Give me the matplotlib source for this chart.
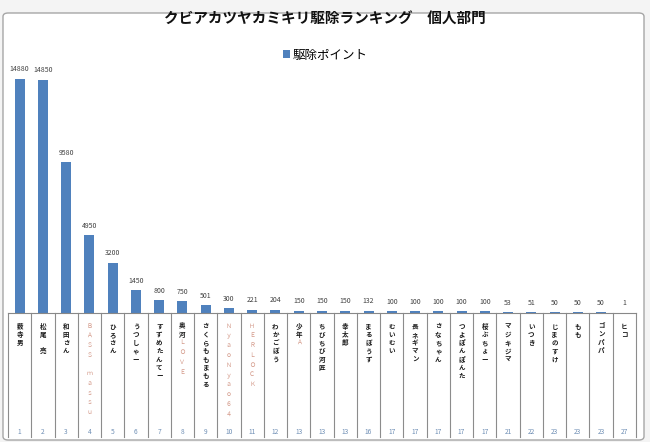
import matplotlib
matplotlib.use("Agg")
import matplotlib.pyplot as plt
from matplotlib.patches import FancyBboxPatch, Rectangle, Patch

plt.rcParams['font.family'] = ['Noto Sans CJK JP', 'DejaVu Sans']

# data
names = ["薮寺男", "松尾　亮", "和田さん", "ＢＡＳＳ　ｍａｓｓｕ", "ひろさん", "うつしゃー",
         "すずめたんてー", "奥河ＬＯＶＥ", "さくらももまもる", "ＮｙａｏＮｙａｏ６４", "ＨＥＲＬＯＣＫ",
         "わかごぼう", "少年Ａ", "ちびちび河匠", "幸太郎", "まるぼうず", "むいむい", "長ネギマン",
         "さなちゃん", "つよぽんぽんた", "桜ぶちょー", "マジキジマ", "いつき", "じまのすけ",
         "もも", "ゴンパパ", "ヒコ"]
ranks = [1, 2, 3, 4, 5, 6, 7, 8, 9, 10, 11, 12, 13, 13, 13, 16, 17, 17, 17, 17, 17,
         21, 22, 23, 23, 23, 27]
points = [14880, 14850, 9580, 4950, 3200, 1450, 800, 750, 501, 300, 221, 204, 150, 150,
          150, 132, 100, 100, 100, 100, 100, 53, 51, 50, 50, 50, 1]

title = "クビアカツヤカミキリ駆除ランキング　個人部門"
series_name = "駆除ポイント"

W, H = 650, 442
fig = plt.figure(figsize=(6.5, 4.42), dpi=100)

# spreadsheet strip behind the chart
fig.patches.append(Rectangle((0, 0), 1, 1, transform=fig.transFigure,
                             fc='#f4f4f4', ec='none', zorder=-3))
fig.patches.append(FancyBboxPatch((3 / W, 2 / H), 641 / W, 427 / H,
                                  boxstyle='round,pad=0,rounding_size=0.008',
                                  transform=fig.transFigure, fc='white',
                                  ec='#a6a6a6', lw=1.0, zorder=-2))

ax = fig.add_axes([8 / W, (H - 313) / H, 628 / W, 250 / H])
x = list(range(len(points)))
bars = ax.bar(x, points, width=0.43, color='#4f81bd')
ax.set_xlim(-0.5, len(points) - 0.5)
ax.set_ylim(0, 15900)
ax.set_yticks([])
ax.set_xticks([])
for s in ['left', 'right', 'top']:
    ax.spines[s].set_visible(False)
ax.spines['bottom'].set_color('#888888')
ax.spines['bottom'].set_linewidth(0.8)

# value labels
for b, v in zip(bars, points):
    ax.annotate(str(v), (b.get_x() + b.get_width() / 2, v), xytext=(0, 4),
                textcoords='offset points', ha='center', va='bottom',
                fontsize=5, color='#404040')

# multi-level category axis: separators, vertical names, rank numbers
tr = ax.get_xaxis_transform()
px = 1 / 250  # one pixel in axes fraction
for i in range(len(points) + 1):
    ax.plot([i - 0.5, i - 0.5], [0, -124 * px], transform=tr, color='#8c8c8c',
            lw=0.8, clip_on=False)

for i, (nm, rk) in enumerate(zip(names, ranks)):
    y = -13 * px
    for ch in nm:
        latin = ch.isalnum() and ('\uff10' <= ch <= '\uff5a')
        if ch != '　':
            ax.text(i, y, ch, transform=tr, ha='center', va='center',
                    fontsize=4.3 if latin else 4.7,
                    color='#d49a8a' if latin else '#1a1a1a',
                    fontweight='normal' if latin else 'bold')
        y -= (9.8 if latin else 8.3) * px
    ax.text(i, -119 * px, str(rk), transform=tr, ha='center', va='center',
            fontsize=4.8, color='#6f8fb5')

fig.text(0.5, 1 - 19 / H, title, ha='center', va='center', fontsize=10.5,
         fontweight='bold', color='#111111')
fig.legend(handles=[Patch(facecolor='#4f81bd', label=series_name)], loc='center',
           bbox_to_anchor=(0.5, 1 - 55 / H), frameon=False, fontsize=9,
           handlelength=0.6, handleheight=0.6, handletextpad=0.2)

fig.savefig('out.png', dpi=100)
